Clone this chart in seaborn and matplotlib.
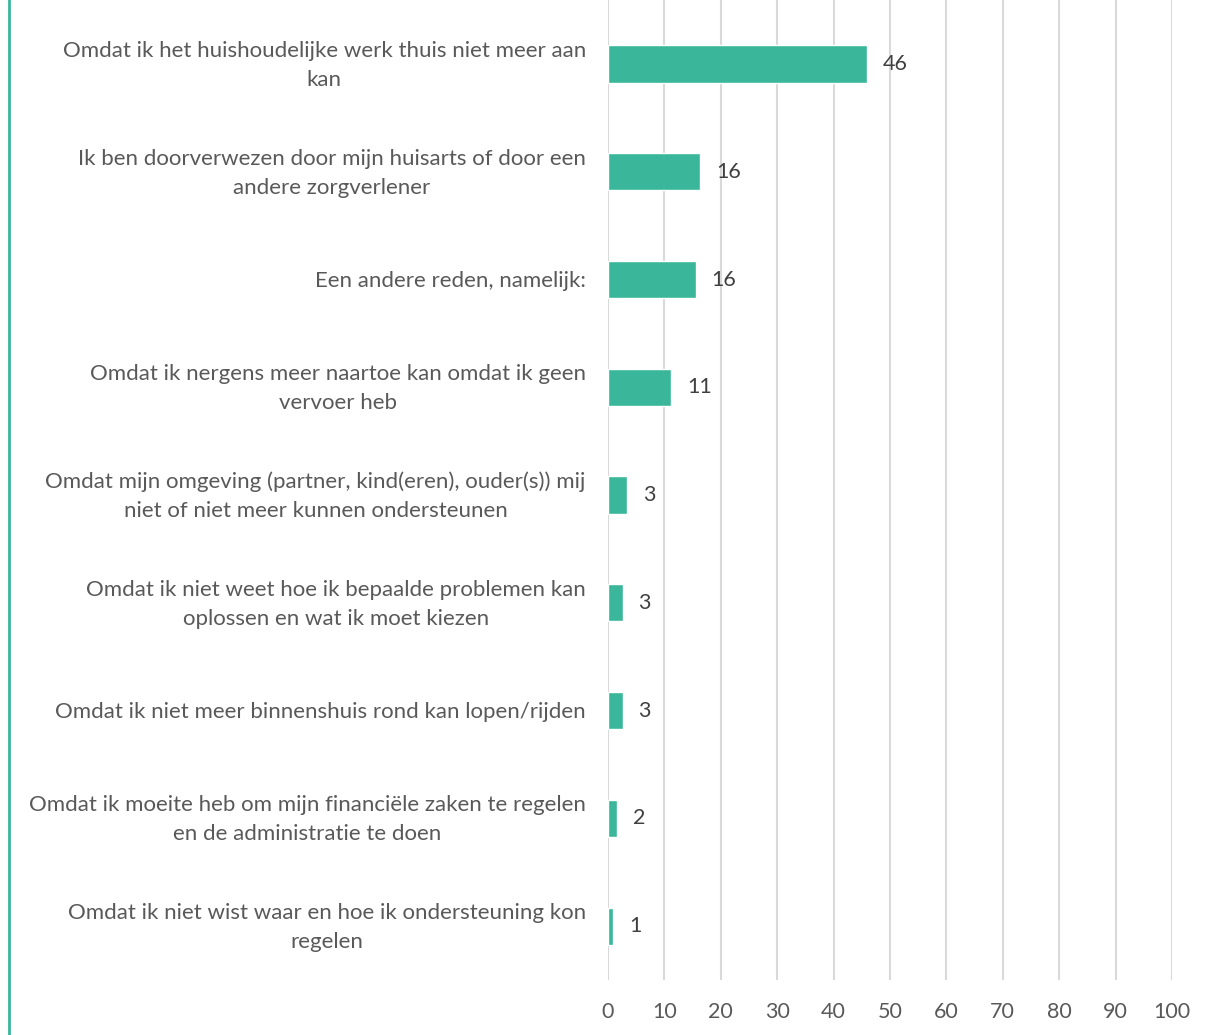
import matplotlib.pyplot as plt
import matplotlib.lines as mlines
import matplotlib.transforms as mtransforms
import seaborn as sns
import pandas as pd

labels = [
    "Omdat ik het huishoudelijke werk thuis niet meer aan\nkan",
    "Ik ben doorverwezen door mijn huisarts of door een\nandere zorgverlener",
    "Een andere reden, namelijk:",
    "Omdat ik nergens meer naartoe kan omdat ik geen\nvervoer heb",
    "Omdat mijn omgeving (partner, kind(eren), ouder(s)) mij\nniet of niet meer kunnen ondersteunen",
    "Omdat ik niet weet hoe ik bepaalde problemen kan\noplossen en wat ik moet kiezen",
    "Omdat ik niet meer binnenshuis rond kan lopen/rijden",
    "Omdat ik moeite heb om mijn financiële zaken te regelen\nen de administratie te doen",
    "Omdat ik niet wist waar en hoe ik ondersteuning kon\nregelen",
]
values = [45.9, 16.4, 15.6, 11.2, 3.4, 2.6, 2.6, 1.6, 0.9]
xticks = [0, 10, 20, 30, 40, 50, 60, 70, 80, 90, 100]

df = pd.DataFrame({"reden": labels, "pct": values})

sns.set_theme(style="white")
plt.rcParams['font.family'] = ['Lato', 'DejaVu Sans']

teal = "#3AB79A"
grey = "#595959"

fig = plt.figure(figsize=(12.15, 10.35), dpi=100)
ax = fig.add_axes([608 / 1215, 1 - 980 / 1035, (1172 - 608) / 1215, 980 / 1035])

sns.barplot(data=df, x="pct", y="reden", color=teal, width=0.345,
            saturation=1, ax=ax, zorder=3)

ax.set_xlim(0, 100)
ax.set_ylim(len(labels) - 0.5, -0.594)
ax.set_xticks(xticks)
ax.grid(axis="x", color="#D9D9D9", linewidth=1.5, zorder=0)
ax.grid(axis="y", visible=False)
for s in ax.spines.values():
    s.set_visible(False)
ax.tick_params(axis="both", length=0)
ax.tick_params(axis="x", labelsize=15.5, labelcolor=grey, pad=16)
ax.tick_params(axis="y", pad=16)
ax.set_yticks(range(len(labels)))
ax.set_yticklabels(labels, fontsize=16, color=grey, ha="right",
                   multialignment="center", linespacing=1.55)
ax.set_xlabel("")
ax.set_ylabel("")

# nudge two-line labels up a little so they sit centred on the bar
for t in ax.get_yticklabels():
    dy = 5 if "\n" in t.get_text() else 1
    t.set_transform(t.get_transform() +
                    mtransforms.ScaledTranslation(0, dy / 100, fig.dpi_scale_trans))

for i, v in enumerate(values):
    ax.text(v + 2.8, i, f"{round(v):d}", va="center", ha="left",
            fontsize=15.5, color="#404040")

fig.add_artist(mlines.Line2D([9 / 1215, 9 / 1215], [0, 1], color=teal,
                             linewidth=2, transform=fig.transFigure))

fig.savefig("out.png", dpi=100)
